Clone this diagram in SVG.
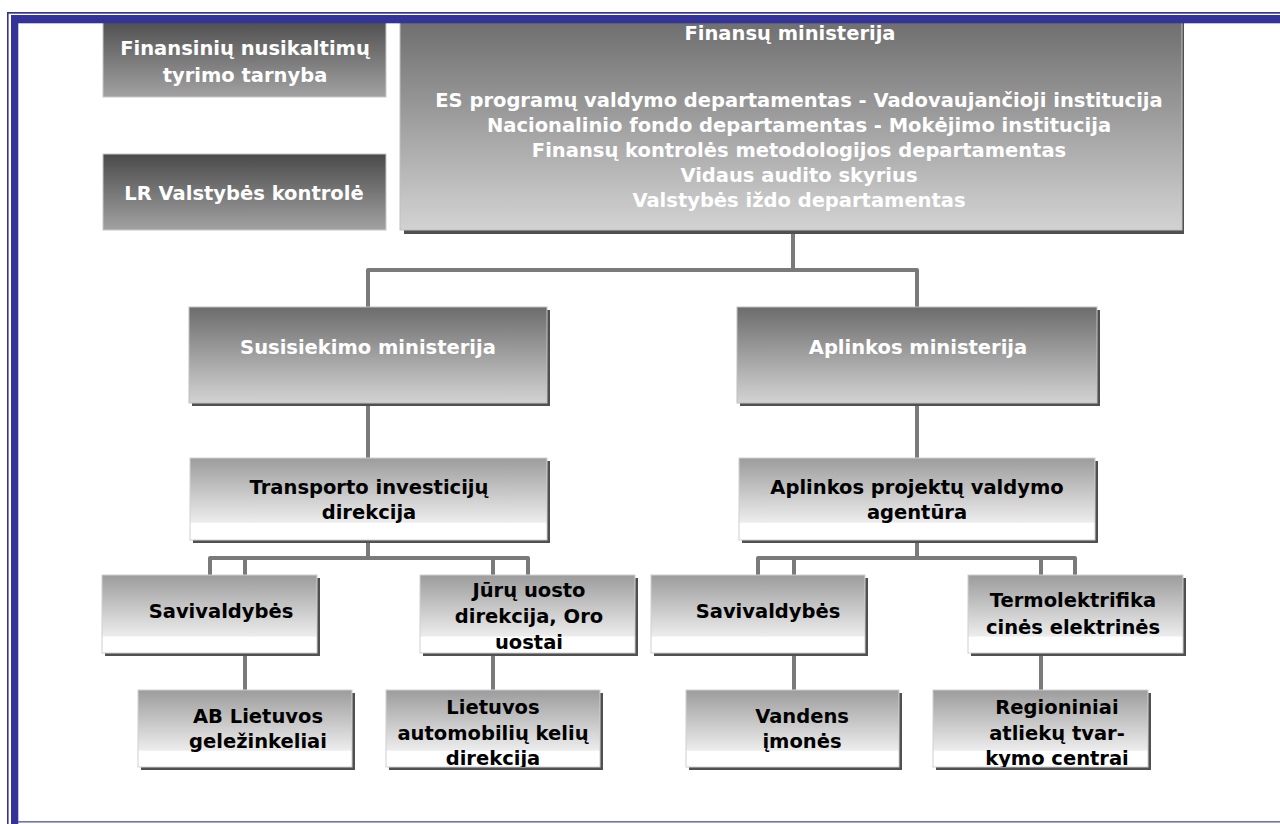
<svg xmlns="http://www.w3.org/2000/svg" width="1280" height="824" viewBox="0 0 1280 824">
<defs>
<linearGradient id="gDark" x1="0" y1="0" x2="0" y2="1">
<stop offset="0" stop-color="#4a4a4a"/><stop offset="1" stop-color="#a2a2a2"/>
</linearGradient>
<linearGradient id="gMid" x1="0" y1="0" x2="0" y2="1">
<stop offset="0" stop-color="#6c6c6c"/><stop offset="0.85" stop-color="#c4c4c4"/><stop offset="1" stop-color="#d2d2d2"/>
</linearGradient>
<linearGradient id="gLight" x1="0" y1="0" x2="0" y2="1">
<stop offset="0" stop-color="#9c9c9c"/><stop offset="0.78" stop-color="#ececec"/><stop offset="0.8" stop-color="#ffffff"/><stop offset="1" stop-color="#ffffff"/>
</linearGradient>
<clipPath id="cL"><rect x="386" y="690" width="214" height="77"/></clipPath>
<clipPath id="cR"><rect x="933" y="690" width="215" height="77"/></clipPath>
</defs>
<style>
.bd{fill:url(#gDark);stroke:#c8c8c8;stroke-width:1}
.bm{fill:url(#gMid);stroke:#c0c0c0;stroke-width:1}
.bl{fill:url(#gLight);stroke:#d0d0d0;stroke-width:1}
.sh{fill:#505050}
.t{font-family:"DejaVu Sans",Verdana,sans-serif;font-weight:bold;font-size:19.5px;text-anchor:middle}
.w{fill:#ffffff}
.k{fill:#000000}
.c{fill:none;stroke:#7a7a7a;stroke-width:4;stroke-linejoin:round}
.frame{fill:#333399}
</style>
<rect width="1280" height="824" fill="#ffffff"/>

<g id="connectors">
<path class="c" d="M793 232 V270"/>
<path class="c" d="M368 307 V270 H917 V307"/>
<path class="c" d="M368 403 V458"/>
<path class="c" d="M917 403 V458"/>
<path class="c" d="M368 540 V558"/>
<path class="c" d="M210 575 V558 H528 V575"/>
<path class="c" d="M245 558 V575"/>
<path class="c" d="M493 558 V575"/>
<path class="c" d="M917 540 V558"/>
<path class="c" d="M758 575 V558 H1075 V575"/>
<path class="c" d="M794 558 V575"/>
<path class="c" d="M1041 558 V575"/>
<path class="c" d="M245 653 V690"/>
<path class="c" d="M493 653 V690"/>
<path class="c" d="M794 653 V690"/>
<path class="c" d="M1041 653 V690"/>
</g>

<g id="finansiniu">
<rect class="bd" x="103" y="16" width="283" height="81"/>
<text class="t w" x="245" y="55">Finansinių nusikaltimų</text>
<text class="t w" x="245" y="82">tyrimo tarnyba</text>
</g>

<g id="lr-valstybes-kontrole">
<rect class="bd" x="103" y="154" width="283" height="76"/>
<text class="t w" x="244" y="200">LR Valstybės kontrolė</text>
</g>

<g id="finansu-ministerija">
<rect class="sh" x="404" y="20" width="780" height="214"/>
<rect class="bm" x="400" y="16" width="782" height="214"/>
<text class="t w" x="790" y="40">Finansų ministerija</text>
<text class="t w" x="799" y="107">ES programų valdymo departamentas - Vadovaujančioji institucija</text>
<text class="t w" x="799" y="132">Nacionalinio fondo departamentas - Mokėjimo institucija</text>
<text class="t w" x="799" y="157">Finansų kontrolės metodologijos departamentas</text>
<text class="t w" x="799" y="182">Vidaus audito skyrius</text>
<text class="t w" x="799" y="207">Valstybės iždo departamentas</text>
</g>

<g id="susisiekimo">
<rect class="sh" x="192" y="310" width="358" height="96"/>
<rect class="bm" x="189" y="307" width="358" height="96"/>
<text class="t w" x="368" y="354">Susisiekimo ministerija</text>
</g>

<g id="aplinkos">
<rect class="sh" x="740" y="310" width="360" height="96"/>
<rect class="bm" x="737" y="307" width="360" height="96"/>
<text class="t w" x="918" y="354">Aplinkos ministerija</text>
</g>

<g id="transporto">
<rect class="sh" x="193" y="461" width="357" height="82"/>
<rect class="bl" x="190" y="458" width="357" height="82"/>
<text class="t k" x="369" y="494">Transporto investicijų</text>
<text class="t k" x="369" y="519">direkcija</text>
</g>

<g id="aplinkos-projektu">
<rect class="sh" x="742" y="461" width="356" height="82"/>
<rect class="bl" x="739" y="458" width="356" height="82"/>
<text class="t k" x="917" y="494">Aplinkos projektų valdymo</text>
<text class="t k" x="917" y="519">agentūra</text>
</g>

<g id="savivaldybes-1">
<rect class="sh" x="105" y="578" width="215" height="78"/>
<rect class="bl" x="102" y="575" width="215" height="78"/>
<text class="t k" x="221" y="618">Savivaldybės</text>
</g>

<g id="juru-uosto">
<rect class="sh" x="423" y="578" width="215" height="78"/>
<rect class="bl" x="420" y="575" width="215" height="78"/>
<text class="t k" x="529" y="597">Jūrų uosto</text>
<text class="t k" x="529" y="623">direkcija, Oro</text>
<text class="t k" x="529" y="649">uostai</text>
</g>

<g id="savivaldybes-2">
<rect class="sh" x="654" y="578" width="214" height="78"/>
<rect class="bl" x="651" y="575" width="214" height="78"/>
<text class="t k" x="768" y="618">Savivaldybės</text>
</g>

<g id="termolektrifikacines">
<rect class="sh" x="971" y="578" width="215" height="78"/>
<rect class="bl" x="968" y="575" width="215" height="78"/>
<text class="t k" x="1073" y="607">Termolektrifika</text>
<text class="t k" x="1073" y="634">cinės elektrinės</text>
</g>

<g id="ab-lietuvos">
<rect class="sh" x="141" y="693" width="214" height="77"/>
<rect class="bl" x="138" y="690" width="214" height="77"/>
<text class="t k" x="258" y="723">AB Lietuvos</text>
<text class="t k" x="258" y="748">geležinkeliai</text>
</g>

<g id="lietuvos-automobiliu">
<rect class="sh" x="389" y="693" width="214" height="77"/>
<rect class="bl" x="386" y="690" width="214" height="77"/>
<g clip-path="url(#cL)">
<text class="t k" x="493" y="714">Lietuvos</text>
<text class="t k" x="493" y="740">automobilių kelių</text>
<text class="t k" x="493" y="765">direkcija</text>
</g>
</g>

<g id="vandens">
<rect class="sh" x="689" y="693" width="213" height="77"/>
<rect class="bl" x="686" y="690" width="213" height="77"/>
<text class="t k" x="802" y="723">Vandens</text>
<text class="t k" x="802" y="748">įmonės</text>
</g>

<g id="regioniniai">
<rect class="sh" x="936" y="693" width="215" height="77"/>
<rect class="bl" x="933" y="690" width="215" height="77"/>
<g clip-path="url(#cR)">
<text class="t k" x="1057" y="714">Regioniniai</text>
<text class="t k" x="1057" y="740">atliekų tvar-</text>
<text class="t k" x="1057" y="765">kymo centrai</text>
</g>
</g>

<g id="frame">
<rect class="frame" x="7" y="12" width="1273" height="1.7"/>
<rect class="frame" x="11" y="15" width="1269" height="8.3"/>
<rect class="frame" x="7" y="12" width="1.6" height="812"/>
<rect class="frame" x="11" y="15" width="7.3" height="809"/>
<rect x="18" y="821" width="1262" height="1.6" fill="#7070b8"/>
</g>
</svg>
